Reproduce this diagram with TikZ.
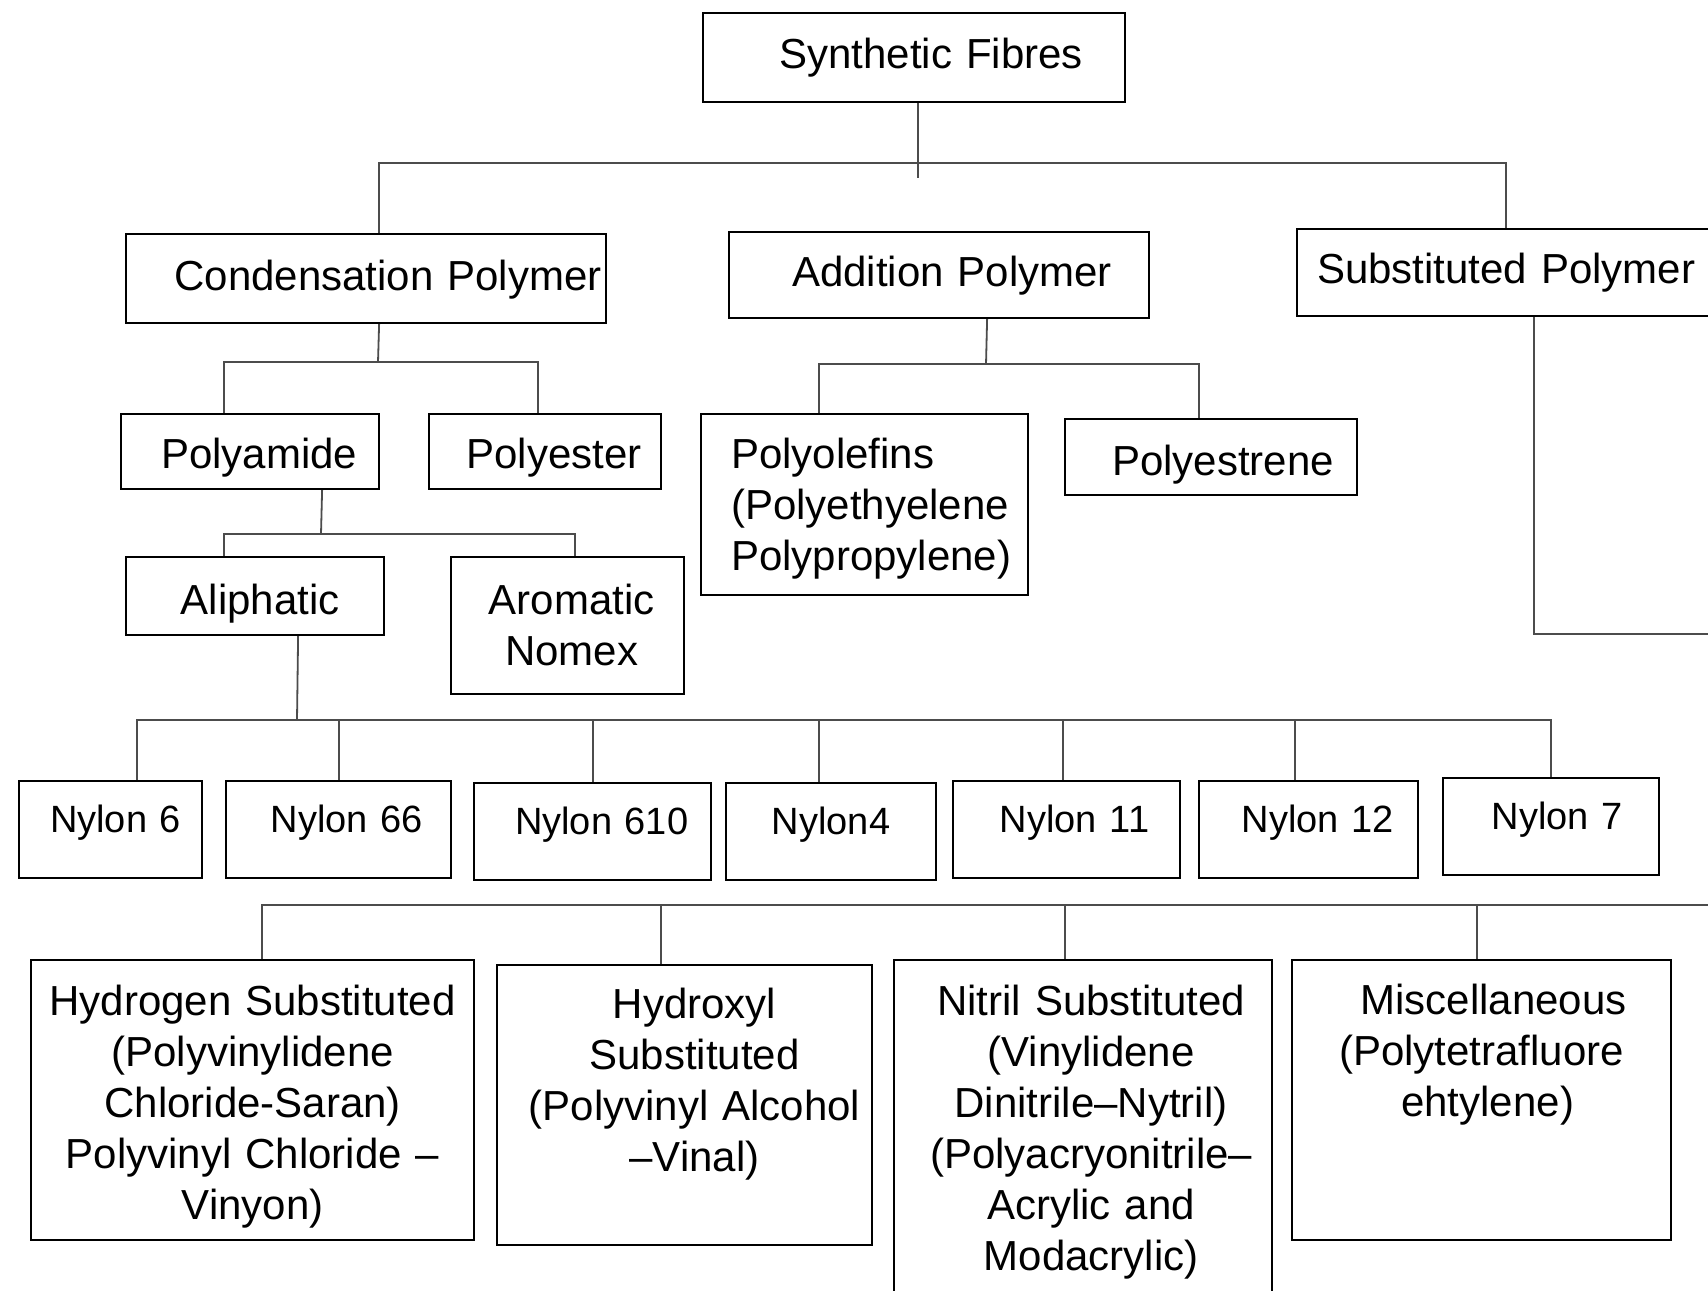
\documentclass[tikz,border=0pt]{standalone}
\usepackage{fontspec}
\setmainfont{Liberation Sans}
\usepackage{tikz}
\tikzstyle{block} = [rectangle, draw, line width=0.55pt, inner sep=0pt,
    anchor=north west, align=center, font=\fontsize{10.5}{12.75}\selectfont]
\tikzstyle{nylon} = [font=\fontsize{9.5}{11.5}\selectfont, text height=12.75pt, text depth=11.5pt]
\tikzstyle{line} = [draw, black!70, line width=0.45pt]

\begin{document}
\begin{tikzpicture}[x=0.25pt, y=-0.25pt]
    \useasboundingbox (0,0) rectangle (1708,1291);
    \clip (0,0) rectangle (1708,1291);
    \fill [white] (0,0) rectangle (1708,1291);
    % Place nodes
    \node [block, text width=105.5pt, text height=13.75pt, text depth=8.5pt] (fibres) at (702,12) {\hspace*{8.5pt}Synthetic Fibres};
    \node [block, text width=120pt, text height=14pt, text depth=8.25pt] (cond) at (125,233) {\hspace*{11pt}Condensation Polymer};
    \node [block, text width=105pt, text height=13.5pt, text depth=8pt] (add) at (728,231) {\hspace*{6.5pt}Addition Polymer};
    \node [block, text width=104.5pt, text height=13.5pt, text depth=8.25pt] (subst) at (1296,228) {Substituted Polymer};
    \node [block, text width=64.5pt, text height=13.5pt, text depth=5.25pt] (pamide) at (120,413) {\hspace*{4.5pt}Polyamide};
    \node [block, text width=58pt, text height=13.5pt, text depth=5.25pt] (pester) at (428,413) {\hspace*{4.5pt}Polyester};
    \node [block, align=left, inner xsep=7.5pt, text width=66.75pt, text height=13.5pt, text depth=31.75pt] (polef) at (700,413) {Polyolefins\\(Polyethyelene\\Polypropylene)};
    \node [block, text width=73pt, text height=14pt, text depth=5pt] (pestr) at (1064,418) {\hspace*{6pt}Polyestrene};
    \node [block, text width=64.5pt, text height=14.25pt, text depth=5.25pt] (aliph) at (125,556) {\hspace*{2.5pt}Aliphatic};
    \node [block, text width=58.25pt, text height=14.25pt, text depth=20pt] (arom) at (450,556) {\hspace*{2pt}Aromatic\\\hspace*{2pt}Nomex};
    \node [block, nylon, text width=45.75pt] (n6) at (18,780) {\hspace*{2.5pt}Nylon 6};
    \node [block, nylon, text width=56.25pt] (n66) at (225,780) {\hspace*{4pt}Nylon 66};
    \node [block, nylon, text width=59.25pt] (n610) at (473,782) {\hspace*{4.5pt}Nylon 610};
    \node [block, nylon, text width=52.5pt] (n4) at (725,782) {Nylon4};
    \node [block, nylon, text width=56.75pt] (n11) at (952,780) {\hspace*{4pt}Nylon 11};
    \node [block, nylon, text width=54.75pt] (n12) at (1198,780) {\hspace*{4.5pt}Nylon 12};
    \node [block, nylon, text width=54pt] (n7) at (1442,777) {\hspace*{3pt}Nylon 7};
    \node [block, text width=110.75pt, text height=13.75pt, text depth=56.25pt] (hydro) at (30,959) {Hydrogen Substituted\\(Polyvinylidene\\Chloride-Saran)\\Polyvinyl Chloride –\\Vinyon)};
    \node [block, text width=93.75pt, text height=13.25pt, text depth=56.75pt] (hydroxyl) at (496,964) {\hspace*{5pt}Hydroxyl\\\hspace*{5pt}Substituted\\\hspace*{5pt}(Polyvinyl Alcohol\\\hspace*{5pt}–Vinal)};
    \node [block, text width=94.5pt, text height=13.75pt, text depth=71.5pt] (nitril) at (893,959) {\hspace*{4pt}Nitril Substituted\\\hspace*{4pt}(Vinylidene\\\hspace*{4pt}Dinitrile–Nytril)\\\hspace*{4pt}(Polyacryonitrile–\\\hspace*{4pt}Acrylic and\\\hspace*{4pt}Modacrylic)};
    \node [block, text width=94.75pt, text height=13.5pt, text depth=56.5pt] (misc) at (1291,959) {\hspace*{6pt}Miscellaneous\\(Polytetrafluore\\\hspace*{3pt}ehtylene)};
    % Junctions
    \coordinate (j0) at (918,163);
    \coordinate (s0) at (918,178);
    \coordinate (j1) at (378,362);
    \coordinate (j2) at (986,364);
    \coordinate (j3) at (321,534);
    \coordinate (j4) at (297,720);
    \coordinate (e1) at (1720,634);
    \coordinate (e2) at (1720,905);
    % Draw edges
    \path [line] (fibres.south -| j0) -- (s0);
    \path [line] (j0) -| ([xshift=3.25pt]cond.north);
    \path [line] (j0) -| (subst.north);
    \path [line] ([xshift=3.25pt]cond.south) -- (j1);
    \path [line] (j1) -| ([xshift=-6.5pt]pamide.north);
    \path [line] (j1) -| ([xshift=-1.75pt]pester.north);
    \path [line] ([xshift=12pt]add.south) -- (j2);
    \path [line] (j2) -| ([xshift=-11.4pt]polef.north);
    \path [line] (j2) -| ([xshift=-3pt]pestr.north);
    \path [line] ([xshift=18pt]pamide.south) -- (j3);
    \path [line] (j3) -| ([xshift=-7.75pt]aliph.north);
    \path [line] (j3) -| ([xshift=1.9pt]arom.north);
    \path [line] ([xshift=10.75pt]aliph.south) -- (j4);
    \foreach \n/\s in {n6/6.6, n66/0, n610/0, n4/-3, n11/-1, n12/-3.4, n7/0}
        \path [line] (j4) -| ([xshift=\s pt]\n.north);
    \path [line] ([xshift=7pt]subst.south) |- (e1) -- (e2);
    \foreach \n/\s in {hydro/2.4, hydroxyl/-5.9, nitril/-4.5, misc/-1.1}
        \path [line] (e2) -| ([xshift=\s pt]\n.north);
\end{tikzpicture}
\end{document}
